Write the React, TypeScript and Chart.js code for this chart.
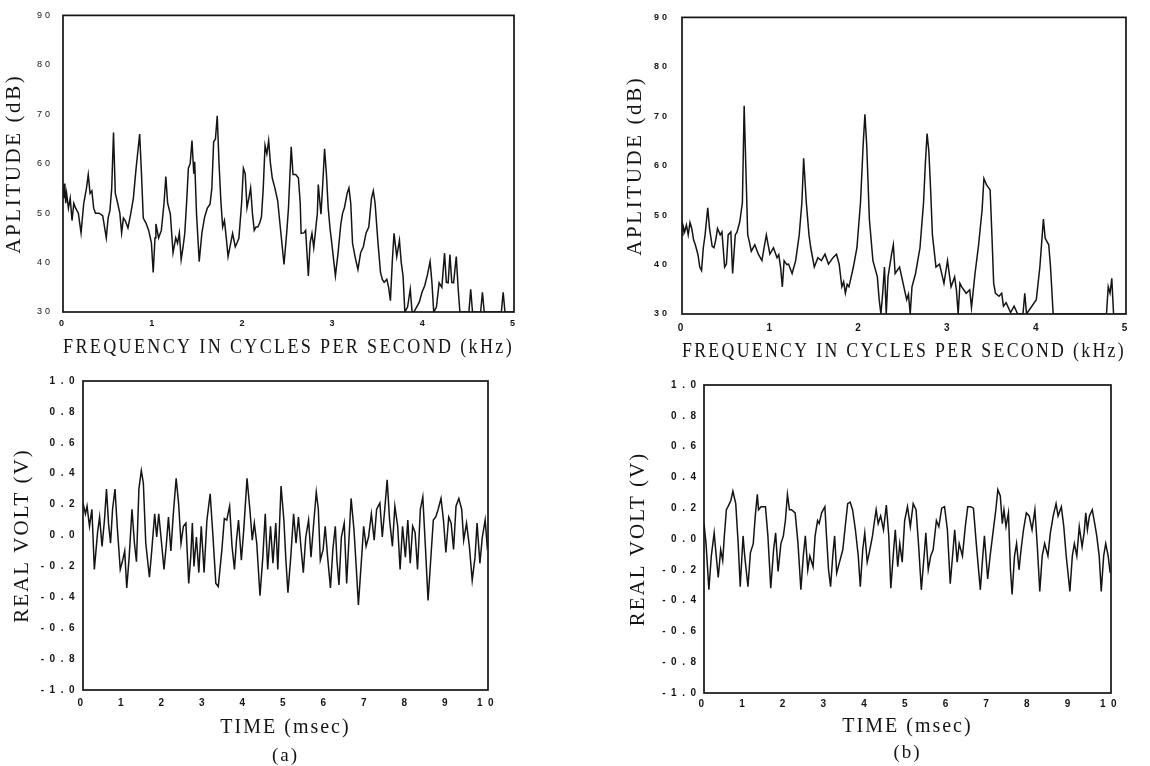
import { useEffect, useRef } from "react";
import { Chart, registerables } from "chart.js";

Chart.register(...registerables);

// ---------- tick values ----------
const ampTicks = [30, 40, 50, 60, 70, 80, 90];
const freqTicks = [0, 1, 2, 3, 4, 5];
const voltTicks = [-1.0, -0.8, -0.6, -0.4, -0.2, 0.0, 0.2, 0.4, 0.6, 0.8, 1.0];
const timeTicks = [0, 1, 2, 3, 4, 5, 6, 7, 8, 9, 10];

// ---------- (a) spectrum ----------
const freqA = [
  0.00, 0.01, 0.02, 0.03, 0.04, 0.06, 0.08, 0.10, 0.12, 0.14, 0.17, 0.20, 0.23, 0.26, 0.28, 0.30,
  0.32, 0.34, 0.36, 0.40, 0.44, 0.48, 0.50, 0.52, 0.54, 0.56, 0.58, 0.60, 0.63, 0.65, 0.67, 0.69,
  0.72, 0.75, 0.78, 0.81, 0.85, 0.87, 0.89, 0.92, 0.95, 0.98, 1.00, 1.02, 1.03, 1.06, 1.09, 1.12,
  1.14, 1.16, 1.19, 1.22, 1.25, 1.27, 1.29, 1.31, 1.33, 1.35, 1.37, 1.39, 1.41, 1.43, 1.45, 1.46,
  1.48, 1.51, 1.54, 1.57, 1.60, 1.63, 1.65, 1.67, 1.69, 1.71, 1.73, 1.75, 1.77, 1.79, 1.81, 1.83,
  1.86, 1.88, 1.91, 1.93, 1.95, 1.98, 2.00, 2.02, 2.04, 2.06, 2.08, 2.10, 2.12, 2.14, 2.16, 2.18,
  2.20, 2.22, 2.24, 2.26, 2.28, 2.30, 2.32, 2.35, 2.38, 2.41, 2.45, 2.48, 2.50, 2.53, 2.55, 2.58,
  2.61, 2.63, 2.64, 2.67, 2.69, 2.72, 2.74, 2.76, 2.78, 2.80, 2.82, 2.83, 2.86, 2.88, 2.90, 2.92,
  2.94, 2.96, 2.98, 3.02, 3.05, 3.08, 3.10, 3.12, 3.15, 3.17, 3.19, 3.21, 3.24, 3.27, 3.30, 3.33,
  3.36, 3.39, 3.42, 3.44, 3.46, 3.49, 3.52, 3.54, 3.56, 3.59, 3.61, 3.63, 3.65, 3.67, 3.70, 3.73,
  3.75, 3.77, 3.79, 3.82, 3.85, 3.87, 3.89, 3.92, 3.95, 3.98, 4.01, 4.04, 4.07, 4.09, 4.11, 4.14,
  4.17, 4.20, 4.23, 4.25, 4.27, 4.29, 4.31, 4.33, 4.36, 4.38, 4.40, 4.50, 4.52, 4.54, 4.63, 4.65,
  4.67, 4.86, 4.88, 4.90, 5.00,
];
const ampA = [
  55.8, 53, 56, 52, 54, 51, 53, 48.5, 52, 51, 50, 46, 52, 55, 57.8, 54,
  54.5, 51, 50, 50, 49.5, 45, 49, 50.5, 55, 66.3, 54, 52.5, 50, 46, 49, 48.5,
  47, 49.8, 53, 59, 66.0, 58, 49, 48, 46.5, 44, 38, 45, 47.8, 45, 46.5, 52,
  57.4, 52, 49.8, 42, 45, 43.9, 46, 40.6, 43, 45.9, 52, 59.1, 60, 64.7, 58, 60.4,
  50, 40.2, 46, 49.2, 51, 51.8, 55, 64.4, 65, 69.7, 60, 52.5, 47.2, 48.5, 45, 41.2,
  44, 45.9, 43.2, 44, 44.9, 52, 59.1, 58, 51.1, 53, 55.1, 50, 46.5, 47.2, 47.2, 48,
  49.2, 55, 63.7, 62, 64.7, 60, 57.1, 55, 52.5, 47, 39.6, 46, 51.1, 63.4, 57.8, 57.8,
  57.1, 52, 45.9, 46, 46.5, 37.3, 44, 45.9, 43, 46.5, 50, 55.8, 49.8, 56, 63.0, 58,
  51.1, 47, 43.9, 37.3, 42, 47.8, 50, 51.1, 54, 55.1, 52, 43.9, 41, 38.6, 42, 43.2,
  46, 47.2, 53, 54.5, 52, 44.5, 38, 36.6, 36, 36.6, 35, 32.3, 40, 45.9, 41.2, 44.5,
  40, 37.3, 30, 31, 34.6, 30, 30, 31, 32, 34, 35.3, 37.5, 40.2, 36, 30, 31,
  35.9, 35, 41.9, 36, 35.9, 41.6, 36, 35.9, 41.2, 35, 30, 30, 34.6, 30, 30, 34,
  30, 30, 34, 30, 30,
];

// ---------- (b) spectrum ----------
const freqB = [
  0.00, 0.01, 0.03, 0.05, 0.07, 0.09, 0.11, 0.13, 0.15, 0.18, 0.20, 0.22, 0.24, 0.26, 0.29, 0.31,
  0.34, 0.36, 0.38, 0.40, 0.43, 0.45, 0.48, 0.50, 0.52, 0.55, 0.57, 0.60, 0.62, 0.65, 0.68, 0.70,
  0.72, 0.74, 0.76, 0.78, 0.82, 0.86, 0.90, 0.93, 0.95, 0.97, 0.99, 1.03, 1.07, 1.09, 1.11, 1.13,
  1.15, 1.18, 1.20, 1.24, 1.28, 1.32, 1.35, 1.37, 1.40, 1.43, 1.45, 1.49, 1.53, 1.57, 1.61, 1.65,
  1.70, 1.74, 1.77, 1.80, 1.82, 1.84, 1.86, 1.88, 1.93, 1.97, 2.01, 2.04, 2.06, 2.08, 2.11, 2.15,
  2.20, 2.22, 2.24, 2.26, 2.28, 2.30, 2.32, 2.36, 2.38, 2.40, 2.45, 2.49, 2.53, 2.55, 2.57, 2.59,
  2.63, 2.68, 2.72, 2.74, 2.76, 2.78, 2.80, 2.82, 2.86, 2.90, 2.95, 2.99, 3.03, 3.07, 3.09, 3.11,
  3.13, 3.15, 3.20, 3.24, 3.26, 3.30, 3.34, 3.38, 3.40, 3.43, 3.47, 3.49, 3.51, 3.53, 3.57, 3.60,
  3.62, 3.65, 3.70, 3.74, 3.78, 3.84, 3.86, 3.88, 3.99, 4.03, 4.07, 4.09, 4.13, 4.15, 4.18, 4.78,
  4.80, 4.82, 4.84, 4.86, 5.00,
];
const ampB = [
  46, 48, 46.6, 48, 46, 48.5, 47.3, 45, 44, 42, 39.5, 38.8, 43.4, 46, 51.5, 47.3,
  43.7, 43.4, 45, 47.3, 46, 46.6, 39.5, 40.1, 46, 46.6, 38.2, 46, 46.6, 48.6, 52.5, 72.1,
  59, 46, 44.5, 42.7, 44, 42.1, 40.8, 44, 46, 44, 42.1, 43.4, 41.4, 42, 39.5, 35.5,
  40.8, 40, 40.1, 38.2, 40.8, 46, 52.5, 61.5, 52.5, 46, 43.4, 39.5, 41.4, 40.8, 42.1, 40.1,
  41.4, 42.1, 40.1, 35.5, 36.5, 34.2, 36, 35.5, 39.5, 43.4, 52.5, 64.2, 70.4, 64.2, 49.2, 40.8,
  37.5, 33, 30, 34.2, 39.5, 30, 37.5, 42.1, 44, 38.2, 39.5, 36.2, 32.9, 34, 30, 35.5,
  38.2, 43.4, 52.5, 60.3, 66.5, 62.9, 55.1, 46, 39.5, 40.1, 36.2, 40.8, 35.5, 37.5, 34.9, 30,
  36.2, 35.5, 34.2, 34.9, 31.3, 38.2, 44, 51.2, 57.4, 56.1, 55.1, 46, 36.2, 34.2, 33.6, 34.2,
  31.6, 32.3, 30.3, 31.6, 30, 30, 34.2, 30, 32.9, 39.5, 49.2, 45.3, 44, 39.5, 30, 30,
  35.5, 34.2, 37.2, 30, 30,
];

// ---------- (a) waveform ----------
const timeA = [
  0, 0.06, 0.10, 0.16, 0.22, 0.28, 0.36, 0.41, 0.47, 0.53, 0.58, 0.63, 0.68, 0.73, 0.79, 0.85,
  0.92, 0.98, 1.03, 1.08, 1.14, 1.21, 1.27, 1.32, 1.38, 1.44, 1.49, 1.55, 1.64, 1.70, 1.77, 1.82,
  1.87, 1.94, 2.00, 2.06, 2.11, 2.17, 2.23, 2.30, 2.36, 2.42, 2.48, 2.54, 2.61, 2.66, 2.70, 2.74,
  2.80, 2.86, 2.92, 2.99, 3.06, 3.14, 3.21, 3.28, 3.34, 3.43, 3.49, 3.55, 3.62, 3.68, 3.74, 3.79,
  3.84, 3.91, 3.97, 4.05, 4.12, 4.18, 4.23, 4.29, 4.37, 4.44, 4.50, 4.56, 4.63, 4.69, 4.76, 4.81,
  4.89, 4.96, 5.01, 5.06, 5.13, 5.20, 5.26, 5.32, 5.38, 5.44, 5.50, 5.57, 5.63, 5.69, 5.76, 5.81,
  5.86, 5.93, 5.98, 6.04, 6.11, 6.17, 6.23, 6.27, 6.32, 6.38, 6.45, 6.51, 6.57, 6.62, 6.69, 6.75,
  6.80, 6.88, 6.93, 6.99, 7.05, 7.12, 7.19, 7.25, 7.33, 7.39, 7.45, 7.51, 7.57, 7.64, 7.70, 7.77,
  7.83, 7.89, 7.96, 8.02, 8.08, 8.14, 8.20, 8.26, 8.33, 8.39, 8.45, 8.52, 8.58, 8.65, 8.71, 8.77,
  8.84, 8.90, 8.96, 9.03, 9.09, 9.15, 9.21, 9.28, 9.35, 9.40, 9.47, 9.54, 9.61, 9.68, 9.73, 9.80,
  9.86, 9.93, 9.98, 10.0,
];
const voltA = [
  0.21, 0.14, 0.19, 0.06, 0.17, -0.22, 0.02, 0.12, -0.07, 0.10, 0.30, 0.08, -0.05, 0.17, 0.30, 0.04,
  -0.22, -0.16, -0.10, -0.34, -0.14, 0.17, -0.05, -0.17, 0.30, 0.42, 0.34, -0.05, -0.27, -0.09, 0.14, -0.01,
  0.14, -0.05, -0.22, -0.05, 0.12, -0.10, 0.14, 0.37, 0.21, -0.05, 0.06, 0.08, -0.31, -0.14, 0.08, -0.20,
  -0.01, -0.24, 0.06, -0.24, 0.10, 0.27, -0.01, -0.31, -0.33, -0.09, 0.11, 0.10, 0.19, -0.07, -0.22, -0.03,
  0.10, -0.16, 0.04, 0.37, 0.17, -0.03, 0.08, -0.05, -0.39, -0.14, 0.14, -0.22, 0.06, -0.18, 0.08, -0.22,
  0.32, 0.10, -0.16, -0.37, -0.14, 0.14, -0.05, 0.12, -0.07, -0.24, -0.01, 0.10, -0.14, 0.06, 0.28, 0.17,
  -0.16, -0.09, 0.06, -0.14, -0.34, -0.09, 0.06, -0.16, -0.32, -0.01, 0.08, -0.31, -0.01, 0.24, 0.04, -0.22,
  -0.45, -0.14, 0.06, -0.07, -0.01, 0.14, -0.03, 0.17, 0.21, -0.01, 0.17, 0.36, 0.10, -0.07, 0.19, 0.06,
  -0.22, 0.06, -0.14, 0.10, -0.18, 0.06, 0.02, -0.22, 0.17, 0.25, -0.05, -0.42, -0.18, 0.10, 0.12, 0.17,
  0.24, 0.10, -0.11, 0.12, 0.08, -0.09, 0.19, 0.24, 0.17, -0.03, 0.08, -0.07, -0.29, -0.14, 0.08, -0.18,
  -0.01, 0.10, -0.07, -0.05,
];

// ---------- (b) waveform ----------
const timeB = [
  0, 0.05, 0.12, 0.18, 0.25, 0.30, 0.35, 0.41, 0.46, 0.50, 0.55, 0.59, 0.66, 0.71, 0.78, 0.84,
  0.89, 0.96, 1.00, 1.08, 1.14, 1.21, 1.26, 1.31, 1.34, 1.40, 1.51, 1.57, 1.64, 1.71, 1.76, 1.82,
  1.89, 1.95, 2.00, 2.05, 2.10, 2.15, 2.24, 2.31, 2.38, 2.44, 2.49, 2.55, 2.60, 2.68, 2.73, 2.79,
  2.83, 2.89, 2.97, 3.01, 3.06, 3.11, 3.17, 3.21, 3.26, 3.33, 3.41, 3.47, 3.53, 3.59, 3.65, 3.72,
  3.79, 3.84, 3.90, 3.95, 4.01, 4.06, 4.14, 4.17, 4.23, 4.28, 4.34, 4.41, 4.48, 4.54, 4.59, 4.66,
  4.70, 4.76, 4.81, 4.87, 4.93, 5.00, 5.07, 5.14, 5.21, 5.27, 5.34, 5.42, 5.45, 5.51, 5.57, 5.63,
  5.71, 5.77, 5.84, 5.91, 5.98, 6.05, 6.12, 6.16, 6.22, 6.27, 6.35, 6.42, 6.48, 6.55, 6.62, 6.69,
  6.79, 6.85, 6.89, 6.97, 7.03, 7.10, 7.17, 7.22, 7.28, 7.33, 7.37, 7.42, 7.48, 7.53, 7.57, 7.63,
  7.68, 7.74, 7.79, 7.85, 7.92, 7.99, 8.06, 8.13, 8.19, 8.25, 8.31, 8.37, 8.45, 8.51, 8.58, 8.65,
  8.70, 8.78, 8.84, 8.90, 8.99, 9.05, 9.10, 9.16, 9.22, 9.29, 9.34, 9.38, 9.42, 9.47, 9.54, 9.60,
  9.65, 9.71, 9.76, 9.82, 9.87, 9.93, 9.98,
];
const voltB = [
  0.10, -0.03, -0.33, -0.11, 0.04, -0.11, -0.25, -0.07, -0.14, 0.02, 0.19, 0.21, 0.25, 0.31, 0.23, -0.03,
  -0.31, 0.02, -0.11, -0.31, -0.09, -0.03, 0.15, 0.29, 0.19, 0.21, 0.21, 0.02, -0.32, -0.07, 0.04, -0.21,
  -0.03, 0.02, 0.12, 0.29, 0.19, 0.19, 0.17, -0.03, -0.33, -0.11, 0.02, -0.20, -0.11, -0.18, 0.02, 0.12,
  0.10, 0.17, 0.21, 0.02, -0.20, -0.31, -0.09, 0.02, -0.22, -0.15, -0.07, 0.08, 0.23, 0.24, 0.19, 0.06,
  -0.11, -0.31, -0.07, 0.04, -0.15, -0.09, 0.02, 0.08, 0.19, 0.10, 0.15, 0.06, 0.22, 0.02, -0.32, -0.07,
  0.06, -0.18, -0.03, -0.15, 0.12, 0.21, 0.08, 0.23, 0.19, -0.03, -0.33, -0.07, 0.04, -0.20, -0.11, -0.07,
  0.12, 0.08, 0.20, 0.21, 0.06, -0.29, -0.07, 0.06, -0.15, -0.03, -0.11, 0.08, 0.21, 0.21, 0.20, -0.03,
  -0.33, -0.11, 0.02, -0.26, -0.11, 0.04, 0.19, 0.32, 0.28, 0.10, 0.19, 0.08, 0.17, -0.20, -0.36, -0.11,
  -0.03, -0.20, -0.07, 0.06, 0.17, 0.15, 0.06, 0.19, -0.05, -0.34, -0.11, -0.03, -0.11, 0.04, 0.15, 0.23,
  0.15, 0.21, 0.08, -0.11, -0.34, -0.11, -0.03, -0.11, 0.08, -0.05, 0.04, 0.17, 0.06, 0.15, 0.19, 0.10,
  0.02, -0.11, -0.34, -0.11, -0.03, -0.11, -0.22,
];

const INK = "#141414";
const SERIF = "'Liberation Serif', 'Times New Roman', serif";
const SANS = "'Liberation Sans', Arial, sans-serif";

const framePlugin = {
  id: "frame",
  beforeDraw(chart: any, _a: any, opts: any) {
    chart.ctx.letterSpacing = opts.titleSpacing || "0px";
  },
  afterDatasetsDraw(chart: any, _a: any, opts: any) {
    const { ctx, chartArea } = chart;
    const { left, top, right, bottom } = chartArea;
    ctx.save();
    ctx.strokeStyle = INK;
    ctx.lineWidth = 1.7;
    ctx.strokeRect(left, top, right - left, bottom - top);
    ctx.restore();
    ctx.letterSpacing = opts.tickSpacing || "0px";
  },
};

type Panel = {
  xs: number[];
  ys: number[];
  xTicks: number[];
  yTicks: number[];
  yDec: number;
  xTitle: string;
  yTitle: string;
  sub?: string;
  subPadBottom?: number;
  box: { left: number; top: number; w: number; h: number };
  padTop: number;
  padRight: number;
  yWidth: number;
  xHeight: number;
  yTitlePad: number;
  xTitlePad: number;
  xTitleSize: number;
  yTitleSize: number;
  yTickPad: number;
  xTickPad: number;
  yTickFont: any;
  xTickFont: any;
  titleSpacing: string;
  tickSpacing: string;
};

const panels: Panel[] = [
  {
    xs: freqA, ys: ampA, xTicks: freqTicks, yTicks: ampTicks, yDec: 0,
    xTitle: "FREQUENCY IN CYCLES PER SECOND (kHz)", yTitle: "APLITUDE (dB)",
    box: { left: 0, top: 0, w: 540, h: 366 },
    padTop: 10, padRight: 26, yWidth: 63, xHeight: 54,
    yTitlePad: 2, xTitlePad: 6, xTitleSize: 20, yTitleSize: 21,
    yTickPad: 10, xTickPad: 6,
    yTickFont: { family: SANS, size: 9, weight: "normal" },
    xTickFont: { family: SANS, size: 9, weight: "bold" },
    titleSpacing: "2.6px", tickSpacing: "3px",
  },
  {
    xs: freqB, ys: ampB, xTicks: freqTicks, yTicks: ampTicks, yDec: 0,
    xTitle: "FREQUENCY IN CYCLES PER SECOND (kHz)", yTitle: "APLITUDE (dB)",
    box: { left: 590, top: 0, w: 560, h: 366 },
    padTop: 8, padRight: 24, yWidth: 92, xHeight: 52,
    yTitlePad: 33, xTitlePad: 2, xTitleSize: 20, yTitleSize: 21,
    yTickPad: 12, xTickPad: 8,
    yTickFont: { family: SANS, size: 9, weight: "bold" },
    xTickFont: { family: SANS, size: 10, weight: "bold" },
    titleSpacing: "2.6px", tickSpacing: "3px",
  },
  {
    xs: timeA, ys: voltA, xTicks: timeTicks, yTicks: voltTicks, yDec: 1,
    xTitle: "TIME (msec)", yTitle: "REAL VOLT (V)", sub: "(a)", subPadBottom: 0,
    box: { left: 0, top: 370, w: 540, h: 396 },
    padTop: 11, padRight: 52, yWidth: 83, xHeight: 57,
    yTitlePad: 10, xTitlePad: 7, xTitleSize: 20, yTitleSize: 21,
    yTickPad: 3, xTickPad: 7,
    yTickFont: { family: SANS, size: 10, weight: "bold" },
    xTickFont: { family: SANS, size: 10, weight: "bold" },
    titleSpacing: "2px", tickSpacing: "5.5px",
  },
  {
    xs: timeB, ys: voltB, xTicks: timeTicks, yTicks: voltTicks, yDec: 1,
    xTitle: "TIME (msec)", yTitle: "REAL VOLT (V)", sub: "(b)", subPadBottom: 3.5,
    box: { left: 590, top: 370, w: 560, h: 396 },
    padTop: 15, padRight: 39, yWidth: 114, xHeight: 50.5,
    yTitlePad: 36, xTitlePad: 4.5, xTitleSize: 20, yTitleSize: 21,
    yTickPad: 2.5, xTickPad: 5,
    yTickFont: { family: SANS, size: 10, weight: "bold" },
    xTickFont: { family: SANS, size: 10, weight: "bold" },
    titleSpacing: "2px", tickSpacing: "5.5px",
  },
];

function buildConfig(p: Panel): any {
  const fmt = (v: number) => {
    const n = Math.abs(v) < 1e-9 ? 0 : v;
    return n.toFixed(p.yDec);
  };
  return {
    type: "line",
    data: {
      datasets: [
        {
          data: p.xs.map((x, i) => ({ x, y: p.ys[i] })),
          borderColor: INK,
          borderWidth: 1.5,
          pointRadius: 0,
          tension: 0,
          fill: false,
        },
      ],
    },
    plugins: [framePlugin],
    options: {
      animation: false,
      responsive: false,
      devicePixelRatio: 1,
      events: [],
      layout: { padding: { left: 0, top: p.padTop, right: p.padRight, bottom: 0 } },
      plugins: {
        legend: { display: false },
        tooltip: { enabled: false },
        frame: { titleSpacing: p.titleSpacing, tickSpacing: p.tickSpacing },
        title: {
          display: !!p.sub,
          text: p.sub || "",
          position: "bottom",
          fullSize: false,
          color: INK,
          font: { family: SERIF, size: 19, weight: "normal", lineHeight: 1 },
          padding: { top: 0, bottom: p.subPadBottom || 0 },
        },
      },
      scales: {
        x: {
          type: "linear",
          min: p.xTicks[0],
          max: p.xTicks[p.xTicks.length - 1],
          afterBuildTicks: (s: any) => {
            s.ticks = p.xTicks.map((v) => ({ value: v }));
          },
          afterFit: (s: any) => {
            s.height = p.xHeight;
          },
          grid: { display: false, drawTicks: false },
          border: { display: false },
          ticks: {
            z: 1,
            autoSkip: false,
            maxRotation: 0,
            padding: p.xTickPad,
            color: INK,
            font: p.xTickFont,
            callback: (v: number) => String(v),
          },
          title: {
            display: true,
            text: p.xTitle,
            color: INK,
            font: { family: SERIF, size: p.xTitleSize, weight: "normal", lineHeight: 1.2 },
            padding: { top: 0, bottom: p.xTitlePad },
          },
        },
        y: {
          type: "linear",
          min: p.yTicks[0],
          max: p.yTicks[p.yTicks.length - 1],
          afterBuildTicks: (s: any) => {
            s.ticks = p.yTicks.map((v) => ({ value: v }));
          },
          afterFit: (s: any) => {
            s.width = p.yWidth;
          },
          grid: { display: false, drawTicks: false },
          border: { display: false },
          ticks: {
            z: 1,
            autoSkip: false,
            padding: p.yTickPad,
            color: INK,
            font: p.yTickFont,
            callback: (v: number) => fmt(v),
          },
          title: {
            display: true,
            text: p.yTitle,
            color: INK,
            font: { family: SERIF, size: p.yTitleSize, weight: "normal", lineHeight: 1.2 },
            padding: { top: p.yTitlePad, bottom: 0 },
          },
        },
      },
    },
  };
}

function PanelChart({ p }: { p: Panel }) {
  const ref = useRef<HTMLCanvasElement | null>(null);
  useEffect(() => {
    if (!ref.current) return;
    const chart = new Chart(ref.current, buildConfig(p));
    return () => chart.destroy();
  }, [p]);
  return (
    <div
      style={{
        position: "absolute",
        left: p.box.left,
        top: p.box.top,
        width: p.box.w,
        height: p.box.h,
      }}
    >
      <canvas
        ref={ref}
        width={p.box.w}
        height={p.box.h}
        style={{ width: p.box.w, height: p.box.h, display: "block" }}
      />
    </div>
  );
}

export default function App() {
  return (
    <div
      style={{
        position: "absolute",
        left: 0,
        top: 0,
        width: 1150,
        height: 766,
        background: "#ffffff",
        overflow: "hidden",
      }}
    >
      {panels.map((p, i) => (
        <PanelChart key={i} p={p} />
      ))}
    </div>
  );
}
